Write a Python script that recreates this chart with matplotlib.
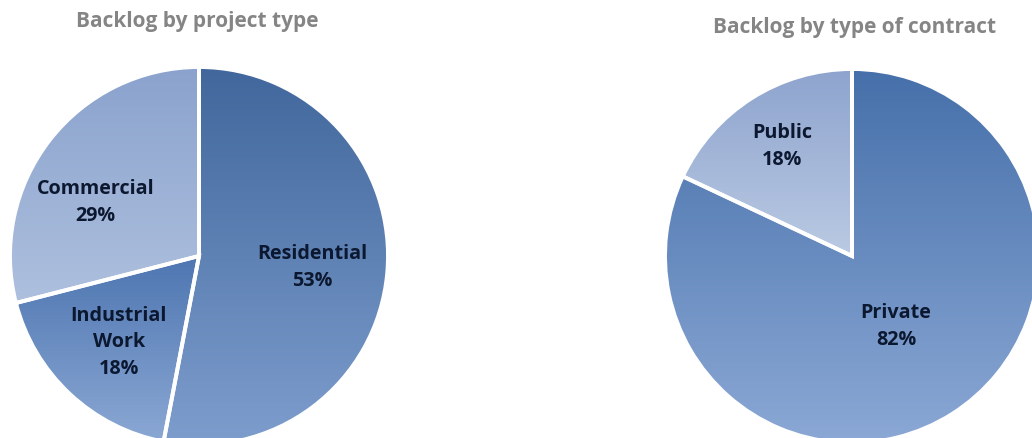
import numpy as np
import matplotlib
matplotlib.use("Agg")
import matplotlib.pyplot as plt
from matplotlib.colors import to_rgb

# ---- data ----
proj_labels = ["Residential", "Industrial\nWork", "Commercial"]
proj_values = [53, 18, 29]
contract_labels = ["Private", "Public"]
contract_values = [82, 18]
titles = ["Backlog by project type", "Backlog by type of contract"]

# ---- styles ----
proj_grad = [("#41679C", "#7D9DCD"), ("#4E76B1", "#8BA8D4"), ("#8AA2CD", "#AEC0DE")]
contract_grad = [("#4670AA", "#8BA8D5"), ("#8EA4CE", "#BACAE3")]
proj_label_r = [0.60, 0.62, 0.62]
proj_label_da = [0, 0, 10]
contract_label_r = [0.44, 0.70]
contract_label_da = [0, 0]

W, H = 1032, 439
fig = plt.figure(figsize=(W / 100, H / 100), dpi=100)
fig.patch.set_facecolor("white")

LABEL_FONT = ["Open Sans", "DejaVu Sans"]


def make_axes(cx, cy, r):
    left = (cx - r) / W
    bottom = (H - (cy + r)) / H
    ax = fig.add_axes([left, bottom, 2 * r / W, 2 * r / H])
    ax.set_xlim(-1, 1)
    ax.set_ylim(-1, 1)
    ax.set_aspect("equal")
    ax.axis("off")
    return ax


def draw_pie(ax, values, labels, grads, lab_r, lab_da):
    wedges, _ = ax.pie(values, startangle=90, counterclock=False, radius=1,
                       wedgeprops=dict(facecolor="none", edgecolor="white",
                                       linewidth=2.8, zorder=3))
    for w, (c0, c1), lab, lr, da in zip(wedges, grads, labels, lab_r, lab_da):
        w.set_facecolor("none")
        ext = w.get_path().get_extents()
        n = 256
        t = np.linspace(0, 1, n)[:, None]
        col = (1 - t) * np.array(to_rgb(c0)) + t * np.array(to_rgb(c1))
        img = col[:, None, :]
        im = ax.imshow(img, extent=(ext.x0, ext.x1, ext.y0, ext.y1),
                       origin="upper", aspect="auto", zorder=2,
                       interpolation="bilinear")
        im.set_clip_path(w)
        mid = np.deg2rad((w.theta1 + w.theta2) / 2 + da)
        ax.text(lr * np.cos(mid), lr * np.sin(mid), lab, ha="center",
                va="center", fontsize=14.2, fontweight="bold",
                color="#0C1830", family=LABEL_FONT, zorder=5,
                linespacing=1.45)
    ax.set_xlim(-1.0, 1.0)
    ax.set_ylim(-1.0, 1.0)


ax1 = make_axes(199, 257, 189)
draw_pie(ax1, proj_values, [f"{l}\n{v}%" for l, v in zip(proj_labels, proj_values)],
         proj_grad, proj_label_r, proj_label_da)
ax2 = make_axes(852, 257, 187)
draw_pie(ax2, contract_values, [f"{l}\n{v}%" for l, v in zip(contract_labels, contract_values)],
         contract_grad, contract_label_r, contract_label_da)

fig.text(197 / W, 1 - 22 / H, titles[0], ha="center", va="center",
         fontsize=15, fontweight="bold", color="#858585", family=LABEL_FONT)
fig.text(855 / W, 1 - 27 / H, titles[1], ha="center", va="center",
         fontsize=15, fontweight="bold", color="#858585", family=LABEL_FONT)

fig.savefig("out.png", dpi=100, facecolor="white")
